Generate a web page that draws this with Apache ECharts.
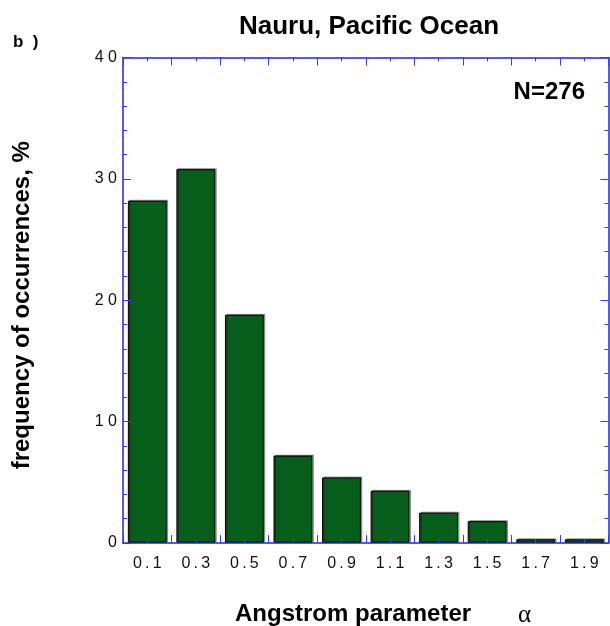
<!DOCTYPE html>
<html>
<head>
<meta charset="utf-8">
<script src="https://cdn.jsdelivr.net/npm/echarts@6/dist/echarts.min.js"></script>
<style>
    html, body {
        margin: 0;
        padding: 0;
        background: #fff;
    }

    #chart {
        width: 610px;
        height: 626px;
    }
</style>
</head>
<body>
<div id="chart"></div>
<script>
const categories = ['0.1', '0.3', '0.5', '0.7', '0.9', '1.1', '1.3', '1.5', '1.7', '1.9']
const frequency = [28.2, 30.8, 18.8, 7.2, 5.4, 4.3, 2.5, 1.8, 0.3, 0.3]
const yTicks = [0, 10, 20, 30, 40]

const axisBlue = '#2222e6'
const tickBlue = '#3a3af0'
const barGreen = '#065e1a'
const font = 'Liberation Sans, Arial, sans-serif'

const chartObj = echarts.init(document.getElementById('chart'))

// value axes used only for tick marks: bin edges (long) and bin centres (short)
function xTickAxis(pos, interval, len, withLine) {
    return {
        type: 'value',
        position: pos,
        min: 0,
        max: 2,
        interval: interval,
        axisLine: {show: withLine, onZero: false, lineStyle: {color: axisBlue, width: 1.5}},
        axisTick: {show: true, inside: true, length: len, lineStyle: {color: tickBlue, width: 1}},
        axisLabel: {show: false},
        splitLine: {show: false},
        z: 5
    }
}

function yTickAxis(pos, interval, len, main) {
    return {
        type: 'value',
        position: pos,
        min: yTicks[0],
        max: yTicks[yTicks.length - 1],
        interval: interval,
        axisLine: {show: main, onZero: false, lineStyle: {color: axisBlue, width: 1.5}},
        axisTick: {show: true, inside: true, length: len, lineStyle: {color: tickBlue, width: 1}},
        axisLabel: {
            show: main && pos === 'left',
            margin: 6,
            fontSize: 16,
            color: '#111',
            fontFamily: font,
            formatter: (v) => String(v).split('').join(' ')
        },
        splitLine: {show: false},
        z: 5
    }
}

const leftAxis = yTickAxis('left', 10, 8, true)
leftAxis.name = 'frequency of occurrences, %'
leftAxis.nameLocation = 'middle'
leftAxis.nameGap = 89
leftAxis.nameRotate = 90
leftAxis.nameTextStyle = {fontSize: 24, fontWeight: 'bold', color: '#000', fontFamily: font, padding: [0, 0, 0, -10]}

const option = {
    backgroundColor: '#fff',
    animation: false,
    title: [
        {
            text: 'Nauru, Pacific Ocean',
            left: 364,
            top: 9,
            textAlign: 'center',
            textStyle: {fontSize: 26, fontWeight: 'bold', color: '#000', fontFamily: font}
        },
        {
            text: 'b  )',
            left: 8,
            top: 29,
            textStyle: {fontSize: 17, fontWeight: 'bold', color: '#000', fontFamily: font}
        },
        {
            text: 'N=276',
            right: 20,
            top: 75,
            textStyle: {fontSize: 24, fontWeight: 'bold', color: '#000', fontFamily: font}
        }
    ],
    grid: {
        left: 123,
        right: 1.5,
        top: 57.5,
        bottom: 83,
        containLabel: false
    },
    xAxis: [
        {
            type: 'category',
            data: categories,
            position: 'bottom',
            axisLine: {show: true, onZero: false, lineStyle: {color: axisBlue, width: 1.5}},
            axisTick: {show: false},
            axisLabel: {
                margin: 13,
                fontSize: 16,
                color: '#111',
                fontFamily: font,
                formatter: (v) => v.split('').join('\u2009')
            },
            z: 5
        },
        xTickAxis('bottom', 0.2, 8, false),
        xTickAxis('bottom', 0.1, 4, false),
        xTickAxis('top', 0.2, 8, true),
        xTickAxis('top', 0.1, 4, false)
    ],
    yAxis: [
        leftAxis,
        yTickAxis('left', 2, 4, false),
        yTickAxis('right', 10, 8, true),
        yTickAxis('right', 2, 4, false)
    ],
    graphic: [
        {
            type: 'text',
            left: 235,
            top: 602,
            style: {text: 'Angstrom parameter', fontSize: 24, fontWeight: 'bold', fill: '#000', fontFamily: font}
        },
        {
            type: 'text',
            left: 518,
            top: 603,
            style: {text: 'α', fontSize: 25, fill: '#000', fontFamily: 'Liberation Serif, Times New Roman, serif'}
        }
    ],
    series: [
        {
            type: 'bar',
            data: frequency,
            xAxisIndex: 0,
            yAxisIndex: 0,
            barWidth: '80%',
            itemStyle: {
                color: barGreen,
                borderColor: '#000',
                borderWidth: 1,
                shadowColor: 'rgba(0,0,0,0.35)',
                shadowOffsetX: 1.5,
                shadowOffsetY: -1
            },
            z: 2
        }
    ]
}

chartObj.setOption(option)
</script>
</body>
</html>
